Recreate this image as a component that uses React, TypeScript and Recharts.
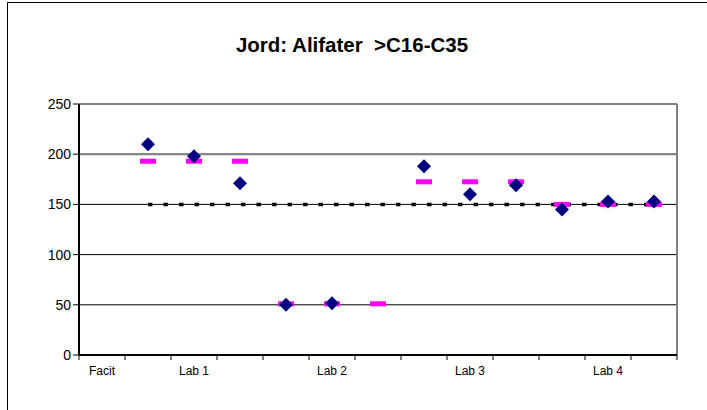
import { ComposedChart, Line, Scatter, XAxis, YAxis, CartesianGrid, ReferenceLine } from 'recharts';

// Category slots along the x axis; blank slots carry no label
const categories = ['Facit', '', 'Lab 1', '', '', 'Lab 2', '', '', 'Lab 3', '', '', 'Lab 4', ''];
// Measured results (blue diamonds)
const measured = [null, 210, 198, 171, 50, 51.5, null, 188, 160, 169, 145, 153, 153];
// Lab's own reference value (magenta bars)
const assigned = [null, 193, 193, 193, 51, 51, 51, 172.5, 172.5, 172.5, 150, 150, 150];
// Facit level (dotted line)
const facit = [null, 150, 150, 150, 150, 150, 150, 150, 150, 150, 150, 150, 150];
const yTicks = [0, 50, 100, 150, 200, 250];

const rows = categories.map((name, i) => ({
    x: i + 0.5,
    name,
    measured: measured[i],
    assigned: assigned[i],
    facit: facit[i],
}));

const measuredPoints = rows.filter(r => r.measured !== null);
const assignedPoints = rows.filter(r => r.assigned !== null);

const FONT = '"Liberation Sans", Arial, sans-serif';

const Diamond = ({ cx, cy }: any) => {
    if (!Number.isFinite(cx) || !Number.isFinite(cy)) return null;
    const r = 7;
    return <path d={`M${cx},${cy - r}L${cx + r},${cy}L${cx},${cy + r}L${cx - r},${cy}Z`} fill="#000080" />;
};

const Dash = ({ cx, cy }: any) => {
    if (!Number.isFinite(cx) || !Number.isFinite(cy)) return null;
    return <rect x={cx - 8} y={cy - 2.5} width={16} height={5} fill="#FF00FF" />;
};

// Tick lines sit on slot boundaries, labels centred in the slot to the right
const XTick = ({ x, y, payload }: any) => {
    const label = categories[payload.value];
    if (!label) return null;
    const slot = 598 / categories.length;
    return (
        <text x={x + slot / 2} y={y + 13} textAnchor="middle" fontSize={12} fontFamily={FONT} fill="#000">
            {label}
        </text>
    );
};

const App = () => {
    return (
        <div style={{ position: 'absolute', left: 0, top: 0, width: 707, height: 410, background: '#fff' }}>
            <svg width={707} height={410} style={{ position: 'absolute', left: 0, top: 0 }}>
                <rect x={7.5} y={2.5} width={710} height={420} fill="none" stroke="#000" strokeWidth={1} />
                <text x={352} y={52} textAnchor="middle" fontSize={20.5} fontWeight="bold" fontFamily={FONT} fill="#000">
                    {'Jord: Alifater\u00a0\u00a0>C16-C35'}
                </text>
            </svg>
            <div style={{ position: 'absolute', left: 0, top: 0 }}>
                <ComposedChart width={707} height={410} data={rows} margin={{ top: 104, right: 30, bottom: 25, left: 39 }}>
                    <CartesianGrid vertical={false} stroke="#000" strokeWidth={1} />
                    <XAxis
                        type="number"
                        dataKey="x"
                        domain={[0, categories.length]}
                        ticks={categories.map((_, i) => i).concat(categories.length)}
                        interval={0}
                        height={30}
                        tick={<XTick />}
                        tickSize={5}
                        axisLine={{ stroke: '#000', strokeWidth: 2 }}
                        tickLine={{ stroke: '#000' }}
                    />
                    <YAxis
                        domain={[0, 250]}
                        ticks={yTicks}
                        width={40}
                        tickSize={6}
                        tickMargin={2}
                        axisLine={{ stroke: '#000', strokeWidth: 2 }}
                        tickLine={{ stroke: '#000' }}
                        tick={{ fill: '#000', fontSize: 14, fontFamily: FONT }}
                    />
                    <ReferenceLine y={200} stroke="#808080" strokeWidth={2} />
                    <ReferenceLine y={250} stroke="#808080" strokeWidth={2} />
                    <ReferenceLine x={categories.length} stroke="#808080" strokeWidth={2} />
                    <Line
                        dataKey="facit"
                        stroke="#000"
                        strokeWidth={3.5}
                        strokeDasharray="4.5 11"
                        dot={false}
                        activeDot={false}
                        isAnimationActive={false}
                    />
                    <Scatter data={assignedPoints} dataKey="assigned" shape={<Dash />} isAnimationActive={false} />
                    <Scatter data={measuredPoints} dataKey="measured" shape={<Diamond />} isAnimationActive={false} />
                </ComposedChart>
            </div>
        </div>
    );
};

export default App;
